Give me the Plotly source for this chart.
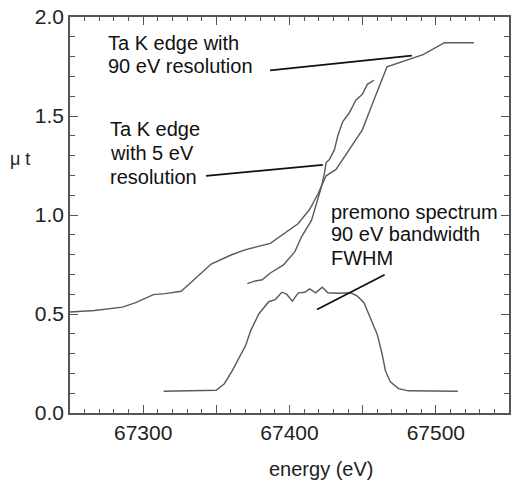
import plotly.graph_objects as go

# 90 eV resolution Ta K edge
e90 = [67250, 67266.8, 67285.9, 67294.9, 67307, 67315, 67326, 67346.5, 67360, 67369, 67378,
       67386.9, 67406, 67413.9, 67419.5, 67425, 67431.8, 67449.8, 67457.6, 67466.6, 67491.3, 67505.9, 67526]
mu90 = [0.51, 0.518, 0.535, 0.557, 0.598, 0.603, 0.615, 0.752, 0.798, 0.823, 0.84,
        0.857, 0.957, 1.03, 1.107, 1.198, 1.23, 1.43, 1.58, 1.748, 1.81, 1.87, 1.87]

# 5 eV resolution Ta K edge
e5 = [67371.2, 67375.5, 67381.3, 67386.9, 67395.9, 67403.7, 67408.2, 67415, 67418.4, 67421.7,
      67424, 67425, 67427.3, 67430.7, 67433, 67436.3, 67440.8, 67445.3, 67449.8, 67453.2, 67457.6]
mu5 = [0.653, 0.665, 0.673, 0.707, 0.748, 0.815, 0.89, 0.973, 1.057, 1.14,
       1.215, 1.265, 1.28, 1.33, 1.40, 1.47, 1.515, 1.58, 1.61, 1.66, 1.68]

# premono spectrum
e_pm = [67314, 67349.9, 67355.5, 67361, 67365.6, 67370, 67373.4, 67379, 67385.8, 67390.3, 67394.8,
        67398, 67402, 67406, 67410.5, 67413.8, 67417.9, 67422.4, 67426.2, 67434, 67442, 67446.4,
        67450.9, 67455.4, 67459.9, 67463.3, 67465.5, 67468.9, 67474.5, 67481.2, 67515]
mu_pm = [0.11, 0.115, 0.148, 0.215, 0.28, 0.34, 0.415, 0.5, 0.562, 0.573, 0.61,
         0.60, 0.565, 0.607, 0.61, 0.627, 0.607, 0.635, 0.607, 0.605, 0.607, 0.59,
         0.557, 0.482, 0.398, 0.298, 0.215, 0.157, 0.123, 0.112, 0.11]

# leader lines for the labels
lead90_x = [67386.7, 67483.6]
lead90_y = [1.73, 1.805]
lead5_x = [67343, 67422.8]
lead5_y = [1.198, 1.253]
leadpm_x = [67418.8, 67465]
leadpm_y = [0.523, 0.698]

x_tickvals = [67300, 67350, 67400, 67450, 67500]
x_ticktext = ["67300", "", "67400", "", "67500"]
y_tickvals = [0.0, 0.5, 1.0, 1.5, 2.0]
y_ticktext = ["0.0", "0.5", "1.0", "1.5", "2.0"]

FONT = "Liberation Sans, Arial, Helvetica, sans-serif"
curve = dict(color="#5a5a5a", width=1.4)
lead = dict(color="#111111", width=1.8)

fig = go.Figure()
fig.add_trace(go.Scatter(x=e90, y=mu90, mode="lines", line=curve))
fig.add_trace(go.Scatter(x=e5, y=mu5, mode="lines", line=curve))
fig.add_trace(go.Scatter(x=e_pm, y=mu_pm, mode="lines", line=curve))
for lx, ly in [(lead90_x, lead90_y), (lead5_x, lead5_y), (leadpm_x, leadpm_y)]:
    fig.add_trace(go.Scatter(x=lx, y=ly, mode="lines", line=lead))

axis_common = dict(
    showgrid=False, zeroline=False, showline=True, linecolor="#555555", linewidth=1.5,
    mirror="ticks", ticks="inside", tickcolor="#555555", tickwidth=1.2, ticklen=8,
    tickfont=dict(family=FONT, size=21, color="#222222"),
)

fig.update_xaxes(range=[67250, 67550], tickmode="array", tickvals=x_tickvals, ticktext=x_ticktext,
                 minor=dict(dtick=10, tick0=67250, ticks="inside", ticklen=4, tickcolor="#555555", tickwidth=1),
                 **axis_common)
fig.update_yaxes(range=[0, 2.0], tickmode="array", tickvals=y_tickvals, ticktext=y_ticktext,
                 minor=dict(dtick=0.1, tick0=0, ticks="inside", ticklen=5, tickcolor="#555555", tickwidth=1),
                 **axis_common)

W, H = 516, 482
L, R, T, B = 70, 5, 14, 69
pw, ph = W - L - R, H - T - B

def px(xp):
    return (xp - L) / pw

def py(yp):
    return (H - B - yp) / ph

def label(text, xp, yp, size=20, anchor="left", color="#111111"):
    fig.add_annotation(text=text, x=px(xp), y=py(yp), xref="paper", yref="paper",
                       xanchor=anchor, yanchor="middle", align=anchor, borderpad=0,
                       showarrow=False, font=dict(family=FONT, size=size, color=color))

for txt, xp, yp in [("Ta K edge with", 107, 40), ("90 eV resolution", 107, 63),
                    ("Ta K edge", 109, 127), ("with 5 eV", 109, 151), ("resolution", 109, 175),
                    ("premono spectrum", 331, 210), ("90 eV bandwidth", 331, 233), ("FWHM", 331, 257)]:
    label(txt, xp, yp)

label("μ t", 9, 157, size=18, color="#222222")
label("energy (eV)", 323, 469, size=20, anchor="center", color="#222222")

fig.update_layout(width=W, height=H, margin=dict(l=L, r=R, t=T, b=B), showlegend=False,
                  plot_bgcolor="white", paper_bgcolor="white")

fig.write_html("out.html", config={"displayModeBar": False},
               post_script="document.body.style.margin='0';document.body.style.padding='0';"
                           "document.documentElement.style.overflow='hidden';")
